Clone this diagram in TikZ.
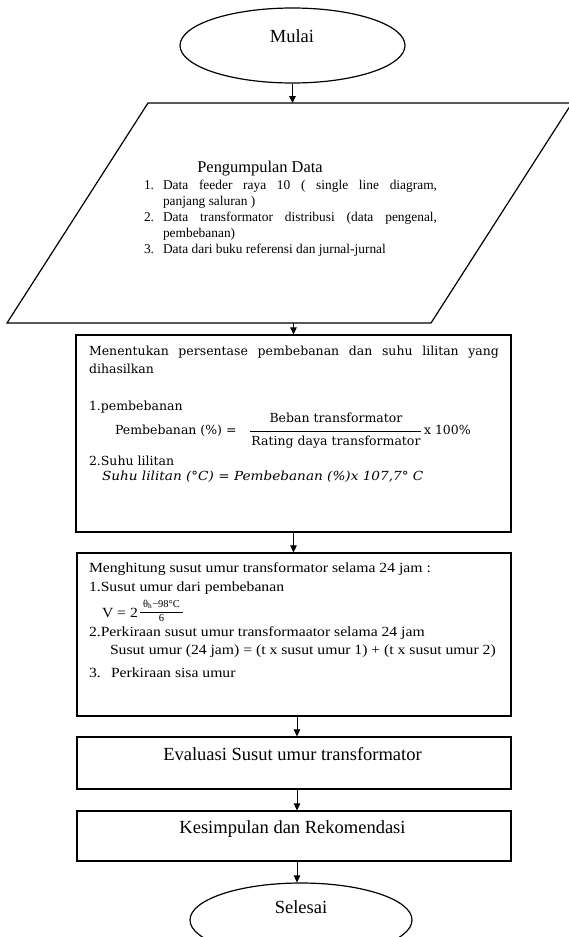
\documentclass[tikz,border=0pt]{standalone}
\usepackage{fontspec}
\setmainfont{Liberation Serif}
\newfontfamily\cambf{DejaVu Serif}
\newfontfamily\cambw[FakeStretch=1.09]{DejaVu Serif}
\newfontfamily\tnrw[FakeStretch=1.12]{Liberation Serif}
\usetikzlibrary{arrows.meta,shapes.geometric}
\tikzset{
 flowarrow/.style={line width=0.9pt,-{Triangle[width=6.5pt,length=7pt]}},
 procbox/.style={draw,rectangle,line width=1.2pt,inner sep=0pt},
 termshape/.style={draw,ellipse,line width=1.2pt,inner sep=0pt},
 txt/.style={inner sep=0pt,outer sep=0pt,anchor=base west},
 ctxt/.style={inner sep=0pt,outer sep=0pt,anchor=base},
 bigfont/.style={font=\fontsize{18.5}{20}\selectfont},
 listfont/.style={font=\fontsize{13.4}{16}\selectfont},
 cambfont/.style={font=\cambf\fontsize{12.5}{15}\selectfont},
 cambit/.style={font=\cambw\itshape\fontsize{12.5}{15}\selectfont},
 hitfont/.style={font=\tnrw\fontsize{14}{17}\selectfont},
 smallfont/.style={font=\fontsize{10.5}{11}\selectfont},
}
\begin{document}
\begin{tikzpicture}[x=1pt,y=-1pt]
\useasboundingbox (0,0) rectangle (568,937);

% Start
\node[termshape,minimum width=225pt,minimum height=75pt] (mulai) at (292.5,45.5) {};
\node[ctxt,bigfont] (mulaitxt) at (292,42) {Mulai};

% Data collection (parallelogram)
\coordinate (ptl) at (148,103);
\coordinate (ptr) at (572,103);
\coordinate (pbr) at (431,323);
\coordinate (pbl) at (7,323);
\draw[line width=1.2pt] (ptl) -- (ptr) -- (pbr) -- (pbl) -- cycle;
\coordinate (pin) at (292.5,103);
\coordinate (pout) at (293.5,323);

\node[ctxt,font=\fontsize{16.4}{18}\selectfont] (pdtitle) at (260,172) {Pengumpulan Data};
\node[txt,listfont] (l1n) at (144,189) {1.};
\node[txt,listfont] (l1a) at (163,189) {\makebox[274pt][s]{Data feeder raya 10 ( single line diagram,}};
\node[txt,listfont] (l1b) at (163,205.2) {panjang saluran )};
\node[txt,listfont] (l2n) at (144,221.4) {2.};
\node[txt,listfont] (l2a) at (163,221.4) {\makebox[274pt][s]{Data transformator distribusi (data pengenal,}};
\node[txt,listfont] (l2b) at (163,237.6) {pembebanan)};
\node[txt,listfont] (l3n) at (144,253.8) {3.};
\node[txt,listfont] (l3a) at (163,253.8) {Data dari buku referensi dan jurnal-jurnal};

% Box: percentage loading and winding temperature
\node[procbox,minimum width=435pt,minimum height=197pt] (tentu) at (293.5,433.5) {};
\node[txt,cambfont] (t1) at (89,355) {\makebox[410pt][s]{Menentukan persentase pembebanan dan suhu lilitan yang}};
\node[txt,cambfont] (t2) at (89,373) {dihasilkan};
\node[txt,cambfont] (t3) at (89,410) {1.pembebanan};
\node[txt,cambfont] (t4) at (115,434) {Pembebanan (\%) =};
\node[ctxt,cambfont] (fnum) at (336,422) {Beban transformator};
\draw[line width=0.7pt] (250,431) -- (421,431);
\node[ctxt,cambfont] (fden) at (336,445) {Rating daya transformator};
\node[txt,cambfont] (t5) at (424,434) {x 100\%};
\node[txt,cambfont] (t6) at (89,465) {2.Suhu lilitan};
\node[txt,cambit] (t7) at (102,480) {Suhu lilitan (°C) = Pembebanan (\%)x 107,7° C};

% Box: ageing over 24 hours
\node[procbox,minimum width=434pt,minimum height=163pt] (hitung) at (294,634.5) {};
\node[txt,hitfont] (h1) at (89,572) {Menghitung susut umur transformator selama 24 jam :};
\node[txt,hitfont] (h2) at (89,591) {1.Susut umur dari pembebanan};
\node[txt,hitfont] (h3) at (102,617) {V = 2};
\node[ctxt,smallfont] (vnum) at (161.5,607) {θ\textsubscript{h}−98°C};
\draw[line width=0.6pt] (140,612) -- (183,612);
\node[ctxt,smallfont] (vden) at (161.5,621) {6};
\node[txt,hitfont] (h4) at (89,636) {2.Perkiraan susut umur transformaator selama 24 jam};
\node[txt,hitfont] (h5) at (110,654) {Susut umur (24 jam) = (t x susut umur 1) + (t x susut umur 2)};
\node[txt,hitfont] (h6n) at (89,677) {3.};
\node[txt,hitfont] (h6) at (111,677) {Perkiraan sisa umur};

% Evaluation
\node[procbox,minimum width=434pt,minimum height=52pt] (eval) at (294,763) {};
\node[ctxt,bigfont] (evaltxt) at (292.5,760) {Evaluasi Susut umur transformator};

% Conclusion
\node[procbox,minimum width=434pt,minimum height=50pt] (kes) at (294,836) {};
\node[ctxt,bigfont] (kestxt) at (292.5,833) {Kesimpulan dan Rekomendasi};

% End
\node[termshape,minimum width=222pt,minimum height=74pt] (selesai) at (301,920) {};
\node[ctxt,bigfont] (selesaitxt) at (301,913) {Selesai};

% Connectors
\draw[flowarrow] (mulai.south) -- (pin);
\draw[flowarrow] (pout) -- (pout |- tentu.north);
\draw[flowarrow] (tentu.south) -- (tentu.south |- hitung.north);
\draw[flowarrow] ([xshift=3pt]hitung.south) -- ([xshift=3pt]eval.north);
\draw[flowarrow] ([xshift=3pt]eval.south) -- ([xshift=3pt]kes.north);
\draw[flowarrow] ([xshift=3pt]kes.south) -- ([xshift=3pt]kes.south |- selesai.north);
\end{tikzpicture}
\end{document}
